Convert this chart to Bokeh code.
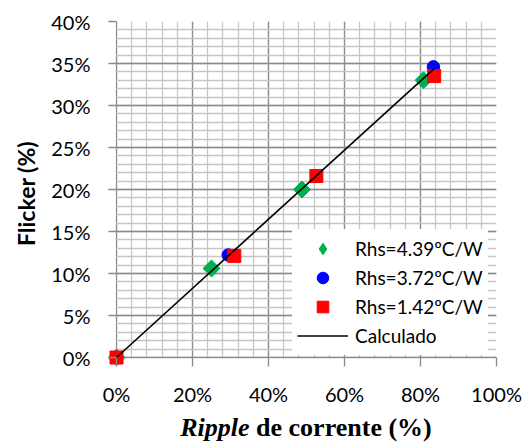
import math
from bokeh.plotting import figure
from bokeh.models import (FixedTicker, PrintfTickFormatter, Range1d, Legend,
                          LegendItem, BoxAnnotation, Div)
from bokeh.layouts import column
from bokeh.embed import file_html
from bokeh.resources import INLINE

# ---- data (percent) ----
x_ticks = [0, 20, 40, 60, 80, 100]
y_ticks = [0, 5, 10, 15, 20, 25, 30, 35, 40]
x_minor = list(range(0, 101, 4))
y_minor = list(range(0, 41, 1))

green_x = [0, 25.0, 48.8, 80.8]
green_y = [0, 10.6, 20.0, 33.0]
blue_x = [0, 29.4, 83.4]
blue_y = [0, 12.2, 34.6]
red_x = [0, 31.0, 52.6, 83.6]
red_y = [0, 12.1, 21.6, 33.5]
calc_x = [0, 83.6]
calc_y = [0, 34.4]

labels = ["Rhs=4.39\u00baC/W", "Rhs=3.72\u00baC/W", "Rhs=1.42\u00baC/W", "Calculado"]

MAJOR = "#8a8a8a"
MINOR = "#c6c6c6"

# layout: the chart's 0/0 corner sits PAD px inside the frame so the
# markers at the origin are not clipped
PAD = 8
XS = 3.8   # px per x unit
YS = 8.4   # px per y unit

p = figure(width=528, height=410, output_backend="svg", toolbar_location=None,
           x_range=Range1d(-PAD / XS, 100), y_range=Range1d(-PAD / YS, 40),
           min_border_left=116 - PAD, min_border_right=32, min_border_top=21,
           min_border_bottom=410 - 21 - 336 - PAD)
p.background_fill_color = "white"
p.border_fill_color = "white"
p.outline_line_alpha = 0

# axes
p.xaxis.ticker = FixedTicker(ticks=x_ticks, minor_ticks=x_minor)
p.yaxis.ticker = FixedTicker(ticks=y_ticks, minor_ticks=y_minor)
p.xaxis.formatter = PrintfTickFormatter(format="%d%%")
p.yaxis.formatter = PrintfTickFormatter(format="%d%%")
for ax in (p.xaxis, p.yaxis):
    ax.axis_line_alpha = 0
    ax.major_tick_line_color = MAJOR
    ax.major_tick_line_width = 1.3
    ax.minor_tick_in = 0
    ax.minor_tick_out = 0
    ax.major_label_text_font = "Lato"
    ax.major_label_text_font_size = "20px"
    ax.major_label_text_color = "black"
p.xaxis.major_tick_in = PAD
p.xaxis.major_tick_out = 1
p.yaxis.major_tick_in = PAD
p.yaxis.major_tick_out = 0
p.xaxis.major_label_standoff = 15
p.yaxis.major_label_standoff = 18

p.yaxis.axis_label = "Flicker (%)"
p.yaxis.axis_label_text_font = "Lato"
p.yaxis.axis_label_text_font_style = "bold"
p.yaxis.axis_label_text_font_size = "23px"
p.yaxis.axis_label_text_color = "black"
p.yaxis.axis_label_standoff = 8

# grid
for g in (p.xgrid, p.ygrid):
    g.grid_line_color = MAJOR
    g.grid_line_width = 1.3
    g.minor_grid_line_color = MINOR
    g.minor_grid_line_width = 1.3
    g.level = "underlay"

# white covers for the padding strips (hide grid overhang)
p.add_layout(BoxAnnotation(right=-1 / XS, fill_color="white", fill_alpha=1,
                           line_alpha=0, level="underlay"))
p.add_layout(BoxAnnotation(top=-1 / YS, fill_color="white", fill_alpha=1,
                           line_alpha=0, level="underlay"))

# legend-only diamond symbol (hidden under the origin markers)
rg_leg = p.scatter(green_x[:1], green_y[:1], marker="diamond", size=10,
                   fill_color="#00b050", line_color="#00b050")
# series
rg = p.scatter(green_x, green_y, marker="square", angle=math.pi / 4, size=12,
               fill_color="#00b050", line_color="#00b050")
rb = p.scatter(blue_x, blue_y, marker="circle", size=12.5,
               fill_color="#0000ff", line_color="#0000ff")
rr = p.scatter(red_x, red_y, marker="square", size=13,
               fill_color="#ff0000", line_color="#ff0000")
rl = p.line(calc_x, calc_y, line_color="black", line_width=1.6)

legend = Legend(items=[LegendItem(label=labels[0], renderers=[rg_leg]),
                       LegendItem(label=labels[1], renderers=[rb]),
                       LegendItem(label=labels[2], renderers=[rr]),
                       LegendItem(label=labels[3], renderers=[rl])],
                location=(176 + PAD, 2 + PAD))
legend.glyph_width = 51
legend.glyph_height = 29
legend.label_height = 29
legend.spacing = 0
legend.padding = 5
legend.margin = 0
legend.label_standoff = 7
legend.label_text_font = "Lato"
legend.label_text_font_size = "19px"
legend.label_text_color = "black"
legend.border_line_alpha = 0
legend.background_fill_color = "white"
legend.background_fill_alpha = 1
p.add_layout(legend)

# x axis title with mixed styles (italic "Ripple")
title_div = Div(text="<i>Ripple</i> de corrente (%)", width=380, height=30,
                margin=(4, 32, 0, 116),
                styles={"font-family": "'Liberation Serif', serif",
                        "font-size": "26px", "font-weight": "bold",
                        "text-align": "center", "color": "black",
                        "line-height": "28px", "white-space": "nowrap"})

layout = column(p, title_div, spacing=0)
open("out.html", "w").write(file_html(layout, INLINE))
